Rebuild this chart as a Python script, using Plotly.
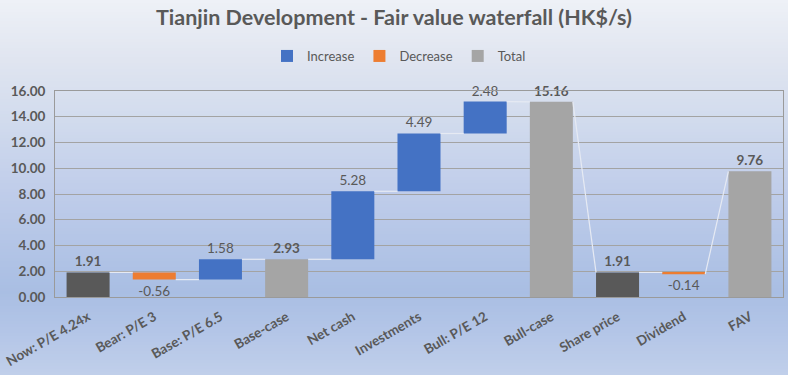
import plotly.graph_objects as go

# ---------------- data ----------------
categories = ["Now: P/E 4.24x", "Bear: P/E 3", "Base: P/E 6.5", "Base-case", "Net cash",
              "Investments", "Bull: P/E 12", "Bull-case", "Share price", "Dividend", "FAV"]
values = [1.91, -0.56, 1.58, 2.93, 5.28, 4.49, 2.48, 15.16, 1.91, -0.14, 9.76]
kinds = ["price", "change", "change", "total", "change", "change", "change",
         "total", "price", "change", "total"]
y_ticks = [0, 2, 4, 6, 8, 10, 12, 14, 16]

# ---------------- styles ----------------
FONT = "Lato, 'Open Sans', sans-serif"
TXT = "#595959"
C_INC, C_DEC, C_TOT, C_DARK = "#4472c4", "#ed7d31", "#a5a5a5", "#595959"
BAR_W = 0.65

# ---------------- waterfall geometry from data ----------------
starts, ends = [], []
level = 0.0
for v, k in zip(values, kinds):
    if k == "change":
        s, e = level, level + v
    else:
        s, e = 0.0, v
    starts.append(s)
    ends.append(e)
    level = e

n = len(categories)
idx = list(range(n))

fig = go.Figure()

# connectors
cx, cy = [], []
for i in range(n - 1):
    j = i + 1
    target = starts[j] if kinds[j] == "change" else values[j]
    cx += [i + BAR_W / 2, j - BAR_W / 2, None]
    cy += [ends[i], target, None]
fig.add_trace(go.Scatter(x=cx, y=cy, mode="lines", line=dict(color="#e6eaf3", width=1.2),
                         showlegend=False, hoverinfo="skip"))


def add_bars(sel, color, name, bold, showlegend=True):
    fig.add_trace(go.Bar(
        x=sel,
        y=[values[i] for i in sel],
        base=[starts[i] for i in sel],
        width=BAR_W,
        marker=dict(color=color, line=dict(width=0)),
        name=name,
        showlegend=showlegend,
        text=[(f"<b>{values[i]:.2f}</b>" if bold else f"{values[i]:.2f}") for i in sel],
        textposition="outside",
        textfont=dict(family=FONT, size=13.5, color=TXT),
        constraintext="none",
        cliponaxis=False,
        hoverinfo="skip",
    ))


inc = [i for i in idx if kinds[i] == "change" and values[i] >= 0]
dec = [i for i in idx if kinds[i] == "change" and values[i] < 0]
tot = [i for i in idx if kinds[i] == "total"]
dark = [i for i in idx if kinds[i] == "price"]

add_bars(inc, C_INC, "Increase", False)
add_bars(dec, C_DEC, "Decrease", False)
add_bars(tot, C_TOT, "Total", True)
add_bars(dark, C_DARK, "Total", True, showlegend=False)

# ---------------- background gradient (pixel stops -> paper coords) ----------------
W, H = 788, 375
ML, MR, MT, MB = 55, 5, 91, 78
ph = H - MT - MB
pw = W - ML - MR
stops = [(0, (238, 241, 247)), (60, (224, 229, 240)), (125, (208, 218, 237)),
         (190, (192, 205, 234)), (250, (178, 196, 230)), (292, (169, 190, 227)),
         (330, (179, 197, 231)), (375, (192, 207, 234))]


def col_at(p):
    for (p0, c0), (p1, c1) in zip(stops[:-1], stops[1:]):
        if p0 <= p <= p1:
            t = (p - p0) / (p1 - p0)
            return "rgb(%d,%d,%d)" % tuple(round(a + (b - a) * t) for a, b in zip(c0, c1))
    return "rgb(%d,%d,%d)" % stops[-1][1]


shapes = []
step = 3
for p in range(0, H, step):
    y0 = (H - MB - (p + step + 0.5)) / ph
    y1 = (H - MB - p) / ph
    shapes.append(dict(type="rect", xref="paper", yref="paper", x0=-0.2, x1=1.2,
                       y0=y0, y1=y1, fillcolor=col_at(p + step / 2),
                       line=dict(width=0), layer="below"))

fig.update_layout(
    width=W, height=H,
    margin=dict(l=ML, r=MR, t=MT, b=MB, pad=0, autoexpand=False),
    paper_bgcolor="rgb(210,219,237)",
    plot_bgcolor="rgba(0,0,0,0)",
    shapes=shapes,
    barmode="overlay",
    title=dict(text="<b>Tianjin Development - Fair value waterfall (HK$/s)</b>",
               x=0.5, xref="container", xanchor="center",
               y=1 - 17 / H, yref="container", yanchor="middle",
               font=dict(family=FONT, size=21.5, color=TXT)),
    legend=dict(orientation="h", x=0.5 - 20 / pw, xanchor="center",
                y=(H - MB - 56) / ph, yanchor="middle",
                bgcolor="rgba(0,0,0,0)", font=dict(family=FONT, size=13, color=TXT),
                itemwidth=30, traceorder="normal"),
    font=dict(family=FONT, color=TXT),
    showlegend=True,
)

fig.update_xaxes(range=[-0.5, n - 0.5], tickmode="array", tickvals=idx, ticktext=categories,
                 tickangle=-30, tickfont=dict(family=FONT, size=13.5, color=TXT, weight="bold"),
                 showgrid=False, zeroline=False, showline=True, mirror=True,
                 linecolor="#9a9a9a", linewidth=1, ticks="", ticklabelstandoff=6,
                 fixedrange=True, automargin=False)
fig.update_yaxes(range=[0, 16], tickmode="array", tickvals=y_ticks, tickformat=".2f",
                 tickfont=dict(family=FONT, size=13.5, color=TXT, weight="bold"),
                 showgrid=True, gridcolor="#a3a3a3", gridwidth=1, zeroline=False,
                 showline=True, mirror=True, linecolor="#9a9a9a", linewidth=1,
                 ticks="", ticklabelstandoff=6, fixedrange=True, automargin=False)

fig.write_html("out.html", config={"displayModeBar": False},
               post_script="document.body.style.margin='0px';")
